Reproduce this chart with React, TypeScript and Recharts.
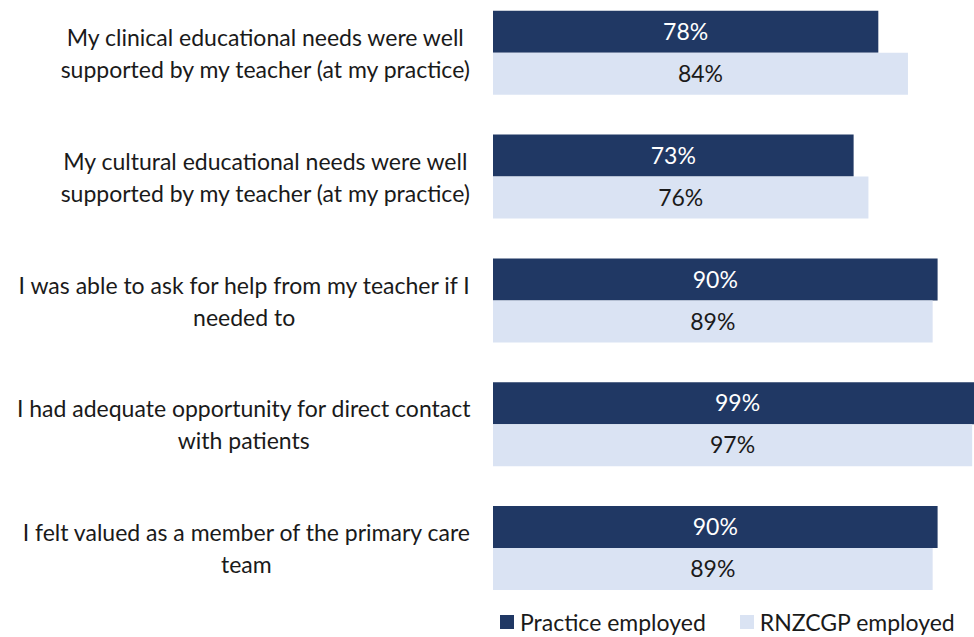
import React from 'react';
import { BarChart, Bar, XAxis, YAxis, Legend, LabelList } from 'recharts';

// statement text, already broken into the lines shown in the chart
const categoryLines = [
  ['My clinical educational needs were well', 'supported by my teacher (at my practice)'],
  ['My cultural educational needs were well', 'supported by my teacher (at my practice)'],
  ['I was able to ask for help from my teacher if I', 'needed to'],
  ['I had adequate opportunity for direct contact', 'with patients'],
  ['I felt valued as a member of the primary care', 'team'],
];
const categories = categoryLines.map((l) => l.join(' '));

const practiceEmployed = [78, 73, 90, 99, 90];
const rnzcgpEmployed = [84, 76, 89, 97, 89];

const seriesNames = ['Practice employed', 'RNZCGP employed'];

const DARK = '#203864';
const LIGHT = '#DAE3F3';
const FONT = 'Lato';
const FONT_SIZE = 23;

const chartData = categories.map((name, i) => ({
  name,
  practice: practiceEmployed[i],
  rnzcgp: rnzcgpEmployed[i],
}));

let ctx: CanvasRenderingContext2D | null = null;
function measure(text: string) {
  if (!ctx) ctx = document.createElement('canvas').getContext('2d');
  if (!ctx) return text.length * FONT_SIZE * 0.5;
  ctx.font = `${FONT_SIZE}px ${FONT}`;
  return ctx.measureText(text).width;
}

// lines centred inside a block whose right edge sits at the tick x
const CategoryTick = (props: any) => {
  const { x, y, payload } = props;
  const idx = categories.indexOf(payload.value);
  const lines = idx >= 0 ? categoryLines[idx] : [payload.value];
  const blockWidth = Math.max(...lines.map(measure));
  const cx = x - blockWidth / 2;
  const lineH = 32;
  const startY = y - ((lines.length - 1) * lineH) / 2;
  return (
    <g>
      {lines.map((line: string, i: number) => (
        <text
          key={i}
          x={cx}
          y={startY + i * lineH}
          textAnchor="middle"
          dominantBaseline="central"
          fill="#1a1a1a"
          fontSize={FONT_SIZE}
          fontFamily={FONT}
        >
          {line}
        </text>
      ))}
    </g>
  );
};

const renderLegend = () => (
  <div
    style={{
      display: 'flex',
      alignItems: 'center',
      height: 24,
      lineHeight: '24px',
      paddingLeft: 500,
      fontFamily: FONT,
      fontSize: FONT_SIZE,
      color: '#1a1a1a',
      whiteSpace: 'nowrap',
    }}
  >
    {seriesNames.map((s, i) => (
      <div key={s} style={{ display: 'flex', alignItems: 'center', marginRight: 34 }}>
        <span
          style={{
            display: 'inline-block',
            width: 14,
            height: 14,
            background: i === 0 ? DARK : LIGHT,
            marginRight: 6,
          }}
        />
        <span>{s}</span>
      </div>
    ))}
  </div>
);

export default function App() {
  return (
    <div
      style={{
        position: 'absolute',
        left: 0,
        top: 0,
        width: 974,
        height: 637,
        overflow: 'hidden',
        background: '#fff',
      }}
    >
      <div style={{ position: 'relative', top: -9 }}>
        <BarChart
          width={987}
          height={643}
          data={chartData}
          layout="vertical"
          margin={{ top: 0, right: 0, bottom: 0, left: 0 }}
          barCategoryGap="16%"
          barGap={0}
        >
          <XAxis type="number" domain={[0, 100]} hide />
          <YAxis
            type="category"
            dataKey="name"
            width={493}
            axisLine={false}
            tickLine={false}
            tickSize={0}
            tickMargin={22}
            interval={0}
            tick={<CategoryTick />}
          />
          <Legend verticalAlign="bottom" height={24} content={renderLegend} />
          <Bar dataKey="practice" name={seriesNames[0]} fill={DARK} isAnimationActive={false}>
            <LabelList
              dataKey="practice"
              position="center"
              formatter={(v: any) => `${v}%`}
              fill="#ffffff"
              fontSize={FONT_SIZE}
              fontFamily={FONT}
            />
          </Bar>
          <Bar dataKey="rnzcgp" name={seriesNames[1]} fill={LIGHT} isAnimationActive={false}>
            <LabelList
              dataKey="rnzcgp"
              position="center"
              formatter={(v: any) => `${v}%`}
              fill="#1a1a1a"
              fontSize={FONT_SIZE}
              fontFamily={FONT}
            />
          </Bar>
        </BarChart>
      </div>
    </div>
  );
}
